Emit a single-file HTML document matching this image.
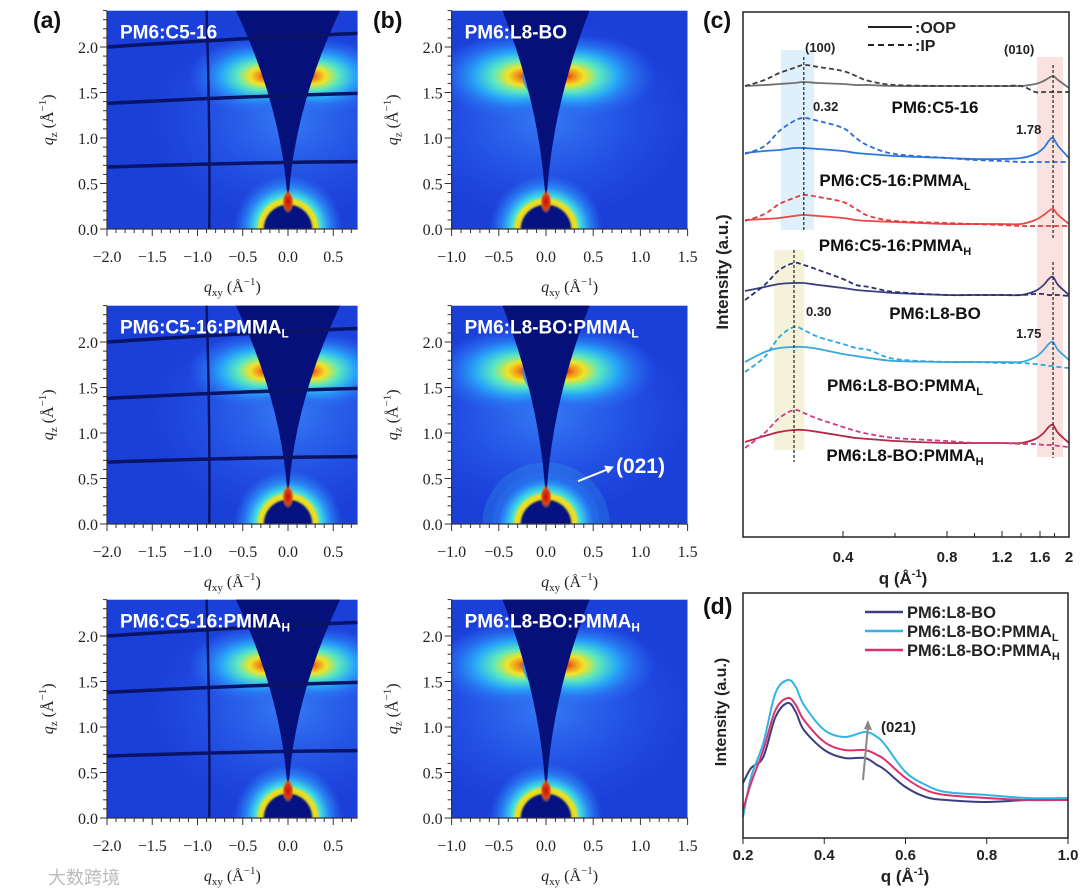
<!DOCTYPE html>
<html><head><meta charset="utf-8"><style>
html,body{margin:0;padding:0;background:#fff;}
svg{display:block;}
text{font-family:"Liberation Sans",sans-serif;}
.ser{font-family:"Liberation Serif",serif;font-size:16px;fill:#222;}
</style></head><body>
<svg id="fig" width="1080" height="895" viewBox="0 0 1080 895" xmlns="http://www.w3.org/2000/svg">
<defs>
<radialGradient id="lobe" cx="0.62" cy="0.5" r="0.5" fx="0.72" fy="0.5">
<stop offset="0" stop-color="#d82808"/><stop offset="0.1" stop-color="#f08818"/><stop offset="0.22" stop-color="#f0e428"/><stop offset="0.38" stop-color="#5ae8c0"/><stop offset="0.58" stop-color="#28a8f8"/><stop offset="0.8" stop-color="#2a78f4" stop-opacity="0.6"/><stop offset="1" stop-color="#2a70f4" stop-opacity="0"/>
</radialGradient>
<radialGradient id="lobeR" cx="0.38" cy="0.5" r="0.5" fx="0.28" fy="0.5">
<stop offset="0" stop-color="#d82808"/><stop offset="0.1" stop-color="#f08818"/><stop offset="0.22" stop-color="#f0e428"/><stop offset="0.38" stop-color="#5ae8c0"/><stop offset="0.58" stop-color="#28a8f8"/><stop offset="0.8" stop-color="#2a78f4" stop-opacity="0.6"/><stop offset="1" stop-color="#2a70f4" stop-opacity="0"/>
</radialGradient>
<radialGradient id="halo" cx="0.5" cy="0.5" r="0.5">
<stop offset="0" stop-color="#3a86fa"/><stop offset="1" stop-color="#2a60ee" stop-opacity="0"/>
</radialGradient>
<radialGradient id="ring" cx="0.5" cy="0.5" r="0.5">
<stop offset="0" stop-color="#071282"/><stop offset="0.42" stop-color="#071282"/><stop offset="0.47" stop-color="#e0d820"/><stop offset="0.53" stop-color="#f0e020"/><stop offset="0.6" stop-color="#40e0e0"/><stop offset="0.75" stop-color="#2b8cf5"/><stop offset="1" stop-color="#2a70f0" stop-opacity="0"/>
</radialGradient>
<radialGradient id="spot" cx="0.5" cy="0.5" r="0.5">
<stop offset="0" stop-color="#c01008"/><stop offset="0.6" stop-color="#e04010"/><stop offset="1" stop-color="#f0a020" stop-opacity="0"/>
</radialGradient>
</defs>
<g id="layer"></g>
</svg>
<script>
// ---- panel (c) data ----
const qC = [0.2,0.24,0.27,0.30,0.32,0.35,0.4,0.45,0.5,0.6,0.8,1.0,1.2,1.4,1.55,1.65,1.72,1.78,1.85,2.0];
const cNames = ["PM6:C5-16","PM6:C5-16:PMMA_L","PM6:C5-16:PMMA_H","PM6:L8-BO","PM6:L8-BO:PMMA_L","PM6:L8-BO:PMMA_H"];
const cOffsets = [0,72,138,209,276,357];
const s1OOP = [0,1,2,3,4,3,2,1,1,0,0,0,0,0,2,5,8,10,6,-2];
const s1IP  = [0,6,13,18,21,19,15,10,5,1,0,0,0,0,-6,-6,-6,-6,-6,-6];
const s2OOP = [5,7,8,10,10,9,7,5,4,2,0,-1,-1,0,4,10,17,20,12,0];
const s2IP  = [4,12,27,37,40,37,30,20,12,4,0,-2,-3,-4,-4,-4,-4,-4,-4,-4];
const s3OOP = [4,5,6,8,9,8,6,4,3,2,0,0,0,0,4,9,13,15,9,0];
const s3IP  = [3,10,20,26,29,27,22,15,8,3,1,0,-1,-2,-2,-2,-2,-2,-2,-2];
const s4OOP = [4,8,11,12,12,10,7,5,4,2,0,0,0,0,4,10,16,18,10,0];
const s4IP  = [-5,10,25,32,30,25,16,10,8,3,0,0,0,0,1,1,0,0,0,-1];
const s5OOP = [0,10,14,15,15,13,8,6,4,1,0,0,0,0,5,12,18,20,12,2];
const s5IP  = [-10,5,25,35,32,25,18,14,12,3,0,0,-1,-1,-2,-3,-4,-4,-5,-6];
const s6OOP = [1,7,11,13,13,11,7,5,4,2,0,0,0,0,4,10,16,18,10,0];
const s6IP  = [-5,10,25,33,30,24,16,12,9,5,2,0,0,-1,-1,-2,-2,-2,-3,-4];
const cTicks = [0.4,0.8,1.2,1.6,2];
const cTickLabels = ["0.4","0.8","1.2","1.6","2"];
// ---- panel (d) data ----
const qD = [0.2,0.22,0.25,0.28,0.31,0.33,0.35,0.4,0.45,0.5,0.53,0.55,0.6,0.65,0.7,0.8,0.9,1.0];
const dL8BO  = [55,70,81,121,135,126,108,88,80,80,73,68,51,41,38,36,38,39];
const dPMMAL = [21,61,95,145,158,151,133,108,101,106,101,93,66,53,46,43,40,40];
const dPMMAH = [28,55,88,128,140,133,118,96,88,88,83,78,60,48,43,40,38,38];
const dTicks = [0.2,0.4,0.6,0.8,1.0];
const dTickLabels = ["0.2","0.4","0.6","0.8","1.0"];

const NS="http://www.w3.org/2000/svg";
const layer=document.getElementById('layer');
function el(tag,attrs,parent){const e=document.createElementNS(NS,tag);for(const k in attrs)e.setAttribute(k,attrs[k]);(parent||layer).appendChild(e);return e;}
function txt(s,attrs,parent){const e=el('text',attrs,parent);e.textContent=s;return e;}
function smooth(pts){let d="M"+pts[0][0].toFixed(1)+","+pts[0][1].toFixed(1);
 for(let i=0;i<pts.length-1;i++){const p0=pts[Math.max(0,i-1)],p1=pts[i],p2=pts[i+1],p3=pts[Math.min(pts.length-1,i+2)];
  const c1=[p1[0]+(p2[0]-p0[0])/6,p1[1]+(p2[1]-p0[1])/6],c2=[p2[0]-(p3[0]-p1[0])/6,p2[1]-(p3[1]-p1[1])/6];
  d+=" C"+c1[0].toFixed(1)+","+c1[1].toFixed(1)+" "+c2[0].toFixed(1)+","+c2[1].toFixed(1)+" "+p2[0].toFixed(1)+","+p2[1].toFixed(1);}
 return d;}
function label(g,x,y,main,sub,size){const t=el('text',{x:x,y:y,fill:'#fff','font-weight':'bold','font-size':size},g);
 t.appendChild(document.createTextNode(main));
 if(sub){const ts=document.createElementNS(NS,'tspan');ts.setAttribute('font-size',size*0.62);ts.setAttribute('dy',4);ts.textContent=sub;t.appendChild(ts);}
 return t;}

let clipId=0;
function giwaxs(o){
 const g=el('g',{});
 
 
 const X=q=>o.x0+q*o.sx, Y=q=>o.y0-q*o.sy;
 const L=X(o.qmin),R=X(o.qmax),T=Y(2.4),B=o.y0;
 const cid='clip'+(clipId++);
 const cp=el('clipPath',{id:cid},g);el('rect',{x:L,y:T,width:R-L,height:B-T},cp);
 const im=el('g',{'clip-path':'url(#'+cid+')'},g);
 el('rect',{x:L,y:T,width:R-L,height:B-T,fill:'#1b40da'},im);
 el('ellipse',{cx:X(0),cy:Y(1.2),rx:1.5*o.sx,ry:1.1*o.sy,fill:'url(#halo)',opacity:0.85},im);
 el('ellipse',{cx:X(-0.55),cy:Y(1.68),rx:0.8*o.sx*o.lobe,ry:0.45*o.sy*o.lobe,fill:'url(#lobe)'},im);
 el('ellipse',{cx:X(0.55),cy:Y(1.68),rx:0.8*o.sx*o.lobe,ry:0.45*o.sy*o.lobe,fill:'url(#lobeR)'},im);
 if(o.extra) el('ellipse',{cx:X(0),cy:Y(0),rx:0.6*o.sx,ry:0.6*o.sy,fill:'none',stroke:'#38a8f0','stroke-width':14,opacity:0.25},im);
 el('ellipse',{cx:X(0),cy:Y(0),rx:0.6*o.sx,ry:0.6*o.sy,fill:'url(#ring)'},im);
 const th=o.top;
 el('path',{d:`M${X(0)},${Y(0.2)} Q${X(0.04)},${Y(1.3)} ${X(th)},${Y(2.45)} L${X(-th)},${Y(2.45)} Q${X(-0.04)},${Y(1.3)} ${X(0)},${Y(0.2)} Z`,fill:'#06107a'},im);
 el('ellipse',{cx:X(0),cy:Y(0.3),rx:6,ry:12,fill:'url(#spot)'},im);
 if(o.gaps){
  [[2.0,2.15],[1.38,1.49],[0.68,0.74]].forEach(a=>el('path',{d:`M${L},${Y(a[0])} Q${X(-0.6)},${Y((a[0]+a[1])/2+0.02)} ${R},${Y(a[1])}`,stroke:'#0a1466','stroke-width':3.5,fill:'none'},im));
  el('path',{d:`M${X(-0.87)},${B} Q${X(-0.86)},${Y(1.2)} ${X(-0.9)},${T}`,stroke:'#0a1466','stroke-width':2.5,fill:'none'},im);
 }
 el('line',{x1:L,y1:T,x2:L,y2:B,stroke:'#333','stroke-width':1.2},g);
 el('line',{x1:L,y1:B,x2:R,y2:B,stroke:'#333','stroke-width':1.2},g);
 for(let k=Math.ceil(o.qmin*10);k<=Math.floor(o.qmax*10);k++){const q=k/10,maj=k%5===0;
  el('line',{x1:X(q),y1:B,x2:X(q),y2:B+(maj?7:4),stroke:'#333','stroke-width':1},g);
  if(maj) txt((q<0?'\u2212':'')+Math.abs(q).toFixed(1),{x:X(q),y:B+33-11,'text-anchor':'middle',class:'ser',dy:11},g);}
 for(let k=0;k<=24;k++){const q=k/10,maj=k%5===0;
  el('line',{x1:L,y1:Y(q),x2:L-(maj?7:4),y2:Y(q),stroke:'#333','stroke-width':1},g);
  if(maj&&q<=2.0) txt(q.toFixed(1),{x:L-9,y:Y(q)+6,'text-anchor':'end',class:'ser'},g);}
 const xt=el('text',{x:(L+R)/2,y:B+63,'text-anchor':'middle',class:'ser','font-size':17},g);
 xt.innerHTML='<tspan font-style="italic">q</tspan><tspan font-size="11" dy="4">xy</tspan><tspan dy="-4"> (\u00c5</tspan><tspan font-size="11" dy="-7">\u22121</tspan><tspan dy="7">)</tspan>';
 const yt=el('text',{x:0,y:0,'text-anchor':'middle',class:'ser','font-size':17,transform:`translate(${L-54},${(T+B)/2}) rotate(-90)`},g);
 yt.innerHTML='<tspan font-style="italic">q</tspan><tspan font-size="11" dy="4">z</tspan><tspan dy="-4"> (\u00c5</tspan><tspan font-size="11" dy="-7">\u22121</tspan><tspan dy="7">)</tspan>';
 const lb=label(g,L+13,T+28,o.main,o.sub,19);
 
 
 return {g,X,Y};
}
const rows=[229,524,818];
const aSub=[["PM6:C5-16",""],["PM6:C5-16:PMMA","L"],["PM6:C5-16:PMMA","H"]];
const bSub=[["PM6:L8-BO",""],["PM6:L8-BO:PMMA","L"],["PM6:L8-BO:PMMA","H"]];
rows.forEach((y0,i)=>{
 giwaxs({name:'giwaxs-a-'+(i+1),x0:288,sx:90.5,y0:y0,sy:91,qmin:-2.0,qmax:0.77,top:0.6,lobe:0.9,gaps:true,main:aSub[i][0],sub:aSub[i][1]});
 const b=giwaxs({name:'giwaxs-b-'+(i+1),x0:546,sx:94.4,y0:y0,sy:91,qmin:-1.0,qmax:1.5,top:0.48,lobe:1.0,gaps:false,extra:i===1,main:bSub[i][0],sub:bSub[i][1]});
 if(i===1){
  const ar=el('line',{x1:b.X(0.34),y1:b.Y(0.47),x2:b.X(0.7),y2:b.Y(0.62),stroke:'#fff','stroke-width':2},b.g);
  
  el('path',{d:`M${b.X(0.72)},${b.Y(0.63)} l-10,-1 l4,8 z`,fill:'#fff'},b.g);
  const t=txt('(021)',{x:b.X(0.72)+2,y:b.Y(0.56),fill:'#fff','font-weight':'bold','font-size':21},b.g);
  
 }
});
[['(a)',33,28],['(b)',373,28],['(c)',703,28],['(d)',703,614]].forEach(p=>{const t=txt(p[0],{x:p[1],y:p[2],'font-weight':'bold','font-size':23,fill:'#111'});
 });

// ---- panel (c) ----
const cg=el('g',{});
const cKq=[0.2,0.4,0.8,1.2,1.6,2.0],cKp=[745,843,947,1002,1040,1069];
function cx(q){for(let i=0;i<cKq.length-1;i++){if(q<=cKq[i+1]||i===cKq.length-2){const t=(q-cKq[i])/(cKq[i+1]-cKq[i]);return cKp[i]+t*(cKp[i+1]-cKp[i]);}}}
const cBase=86;
function cy(v,k){return cBase+cOffsets[k]-v;}
el('rect',{x:cx(0.30)-13,y:50,width:33,height:180,fill:'#d6ecfb',opacity:0.8},cg);
el('rect',{x:cx(0.28)-10,y:250,width:30,height:200,fill:'#f3f2d6',opacity:0.9},cg);
el('rect',{x:1037,y:57,width:26,height:400,fill:'#fbdfdc',opacity:0.9},cg);
const cSeries=[[s1OOP,s1IP,'#707070','#404040'],[s2OOP,s2IP,'#2b78dc','#2b6cd8'],[s3OOP,s3IP,'#e84a4a','#e83838'],[s4OOP,s4IP,'#3b3f80','#2c2f70'],[s5OOP,s5IP,'#34a8e0','#2aa8e0'],[s6OOP,s6IP,'#b42845','#d03a88']];
cSeries.forEach((s,k)=>{
 const po=el('path',{d:smooth(qC.map((q,i)=>[cx(q),cy(s[0][i],k)])),stroke:s[2],'stroke-width':1.8,fill:'none'},cg);
 
 const pi=el('path',{d:smooth(qC.map((q,i)=>[cx(q),cy(s[1][i],k)])),stroke:s[3],'stroke-width':1.8,fill:'none','stroke-dasharray':'5,3'},cg);
 
});
[[cx(0.32),57,230],[cx(0.30),250,462],[cx(1.78),65,240],[cx(1.78),262,458]].forEach(l=>el('line',{x1:l[0],y1:l[1],x2:l[0],y2:l[2],stroke:'#222','stroke-width':1.2,'stroke-dasharray':'3,2'},cg));
el('rect',{x:743,y:12,width:326,height:525,fill:'none',stroke:'#222','stroke-width':1.5},cg);
cTicks.forEach((q,i)=>{el('line',{x1:cx(q),y1:537,x2:cx(q),y2:531,stroke:'#222'},cg);
 txt(cTickLabels[i],{x:cx(q),y:562,'text-anchor':'middle','font-weight':'bold','font-size':15,fill:'#222'},cg);});
[0.6,1.0,1.4,1.8].forEach(q=>el('line',{x1:cx(q),y1:537,x2:cx(q),y2:533,stroke:'#222'},cg));
const cxt=el('text',{x:903,y:584,'text-anchor':'middle','font-weight':'bold','font-size':17,fill:'#222'},cg);
cxt.innerHTML='q (\u00c5<tspan font-size="11" dy="-7">-1</tspan><tspan dy="7">)</tspan>';
txt('Intensity (a.u.)',{x:0,y:0,'text-anchor':'middle','font-weight':'bold','font-size':17,fill:'#222',transform:'translate(728,272) rotate(-90)'},cg);
el('line',{x1:868,y1:27,x2:912,y2:27,stroke:'#222','stroke-width':2},cg);
el('line',{x1:868,y1:45,x2:912,y2:45,stroke:'#222','stroke-width':2,'stroke-dasharray':'6,4'},cg);
txt(':OOP',{x:915,y:33,'font-weight':'bold','font-size':16,fill:'#222'},cg);
txt(':IP',{x:915,y:51,'font-weight':'bold','font-size':16,fill:'#222'},cg);
[['(100)',805,52],['(010)',1004,54],['0.32',813,111],['1.78',1016,134],['0.30',806,316],['1.75',1016,338]].forEach(a=>txt(a[0],{x:a[1],y:a[2],'font-weight':'bold','font-size':13,fill:'#222'},cg));
const cLab=[[935,113],[895,186],[895,251],[935,319],[905,391],[905,461]];
cNames.forEach((n,k)=>{const parts=n.split('_');
 const t=el('text',{x:cLab[k][0],y:cLab[k][1],'text-anchor':'middle','font-weight':'bold','font-size':17,fill:'#111'},cg);
 t.appendChild(document.createTextNode(parts[0]));
 if(parts[1]){const ts=document.createElementNS(NS,'tspan');ts.setAttribute('font-size',11);ts.setAttribute('dy',4);ts.textContent=parts[1];t.appendChild(ts);}
 });

// ---- panel (d) ----
const dg=el('g',{});
const dx=q=>743+(q-0.2)/0.8*325, dy=v=>838-v;
const dSeries=[[dL8BO,'#3b3f80','PM6:L8-BO',''],[dPMMAL,'#30b4e8','PM6:L8-BO:PMMA','L'],[dPMMAH,'#e0306a','PM6:L8-BO:PMMA','H']];
dSeries.forEach((s,k)=>{const p=el('path',{d:smooth(qD.map((q,i)=>[dx(q),dy(s[0][i])])),stroke:s[1],'stroke-width':2,fill:'none'},dg);
 
 const ly=612+k*19;
 el('line',{x1:865,y1:ly,x2:903,y2:ly,stroke:s[1],'stroke-width':2.5},dg);
 const t=el('text',{x:907,y:ly+6,'font-weight':'bold','font-size':16.5,fill:'#222'},dg);
 t.appendChild(document.createTextNode(s[2]));
 if(s[3]){const ts=document.createElementNS(NS,'tspan');ts.setAttribute('font-size',11);ts.setAttribute('dy',4);ts.textContent=s[3];t.appendChild(ts);}
 });
el('line',{x1:863,y1:780,x2:868,y2:726,stroke:'#888','stroke-width':2},dg);
el('path',{d:'M868,720 l-4,9 l8,1 z',fill:'#888'},dg);
txt('(021)',{x:881,y:732,'font-weight':'bold','font-size':15,fill:'#222'},dg);
el('rect',{x:743,y:593,width:325,height:245,fill:'none',stroke:'#222','stroke-width':1.5},dg);
dTicks.forEach((q,i)=>{el('line',{x1:dx(q),y1:838,x2:dx(q),y2:844,stroke:'#222'},dg);
 txt(dTickLabels[i],{x:dx(q),y:860,'text-anchor':'middle','font-weight':'bold','font-size':15,fill:'#222'},dg);});
const dxt=el('text',{x:905,y:882,'text-anchor':'middle','font-weight':'bold','font-size':17,fill:'#222'},dg);
dxt.innerHTML='q (\u00c5<tspan font-size="11" dy="-7">-1</tspan><tspan dy="7">)</tspan>';
txt('Intensity (a.u.)',{x:0,y:0,'text-anchor':'middle','font-weight':'bold','font-size':16,fill:'#222',transform:'translate(726,712) rotate(-90)'},dg);
const wm=txt('大数跨境',{x:48,y:884,'font-size':18,fill:'#bbb','font-family':'"Liberation Sans","Noto Sans CJK SC",sans-serif'});

</script>
</body></html>
